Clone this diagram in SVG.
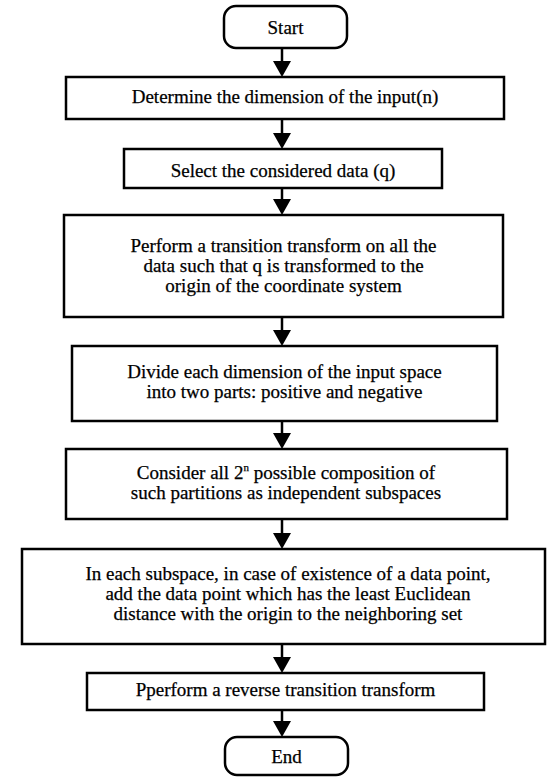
<svg xmlns="http://www.w3.org/2000/svg" width="557" height="777" viewBox="0 0 557 777">
  <style>
    .box { fill: #ffffff; stroke: #000000; stroke-width: 2.5; }
    .lbl { font-family: "Liberation Serif", "Times New Roman", serif; font-size: 19px; fill: #000000; text-anchor: middle; stroke: #000000; stroke-width: 0.25; }
    .conn { fill: none; stroke: #000000; stroke-width: 2.5; }
  </style>
  <defs>
    <marker id="arrow" viewBox="0 0 16 18" refX="8" refY="9" markerWidth="16" markerHeight="18" markerUnits="userSpaceOnUse" orient="auto">
      <path d="M0,0 L16,9 L0,18 z" fill="#000000"/>
    </marker>
  </defs>

  <rect width="557" height="777" fill="#ffffff"/>

  <!-- connectors -->
  <g id="connectors">
    <path class="conn" d="M282,48 V69" marker-end="url(#arrow)"/>
    <path class="conn" d="M282,119 V141" marker-end="url(#arrow)"/>
    <path class="conn" d="M282,188 V207" marker-end="url(#arrow)"/>
    <path class="conn" d="M282,317 V338" marker-end="url(#arrow)"/>
    <path class="conn" d="M282,421 V441" marker-end="url(#arrow)"/>
    <path class="conn" d="M282,519 V541" marker-end="url(#arrow)"/>
    <path class="conn" d="M282,644 V665" marker-end="url(#arrow)"/>
    <path class="conn" d="M282,710 V729" marker-end="url(#arrow)"/>
  </g>

  <g id="start">
    <rect class="box" x="224" y="6" width="123" height="42" rx="12"/>
    <text class="lbl" x="285.5" y="34">Start</text>
  </g>

  <g id="determine-dimension">
    <rect class="box" x="66" y="77" width="438" height="42"/>
    <text class="lbl" x="285" y="103">Determine the dimension of the input(n)</text>
  </g>

  <g id="select-data">
    <rect class="box" x="124" y="149" width="318" height="39"/>
    <text class="lbl" x="283" y="177">Select the considered data (q)</text>
  </g>

  <g id="transition-transform">
    <rect class="box" x="64" y="215" width="439" height="102"/>
    <text class="lbl" x="283.5" y="252">Perform a transition transform on all the</text>
    <text class="lbl" x="283.5" y="272">data such that q is transformed to the</text>
    <text class="lbl" x="283.5" y="292">origin of the coordinate system</text>
  </g>

  <g id="divide-dimensions">
    <rect class="box" x="72" y="346" width="425" height="75"/>
    <text class="lbl" x="284.5" y="378">Divide each dimension of the input space</text>
    <text class="lbl" x="284.5" y="398">into two parts: positive and negative</text>
  </g>

  <g id="subspaces">
    <rect class="box" x="66" y="449" width="441" height="70"/>
    <text class="lbl" x="286" y="479">Consider all 2<tspan font-size="11" dy="-8">n</tspan><tspan dy="8"> possible composition of</tspan></text>
    <text class="lbl" x="286" y="499">such partitions as independent subspaces</text>
  </g>

  <g id="nearest-point">
    <rect class="box" x="22" y="549" width="523" height="95"/>
    <text class="lbl" x="288" y="580">In each subspace, in case of existence of a data point,</text>
    <text class="lbl" x="288" y="600">add the data point which has the least Euclidean</text>
    <text class="lbl" x="288" y="620">distance with the origin to the neighboring set</text>
  </g>

  <g id="reverse-transform">
    <rect class="box" x="87" y="673" width="397" height="37"/>
    <text class="lbl" x="285.5" y="696">Pperform a reverse transition transform</text>
  </g>

  <g id="end">
    <rect class="box" x="225" y="737" width="123" height="38" rx="12"/>
    <text class="lbl" x="286.5" y="763">End</text>
  </g>
</svg>
